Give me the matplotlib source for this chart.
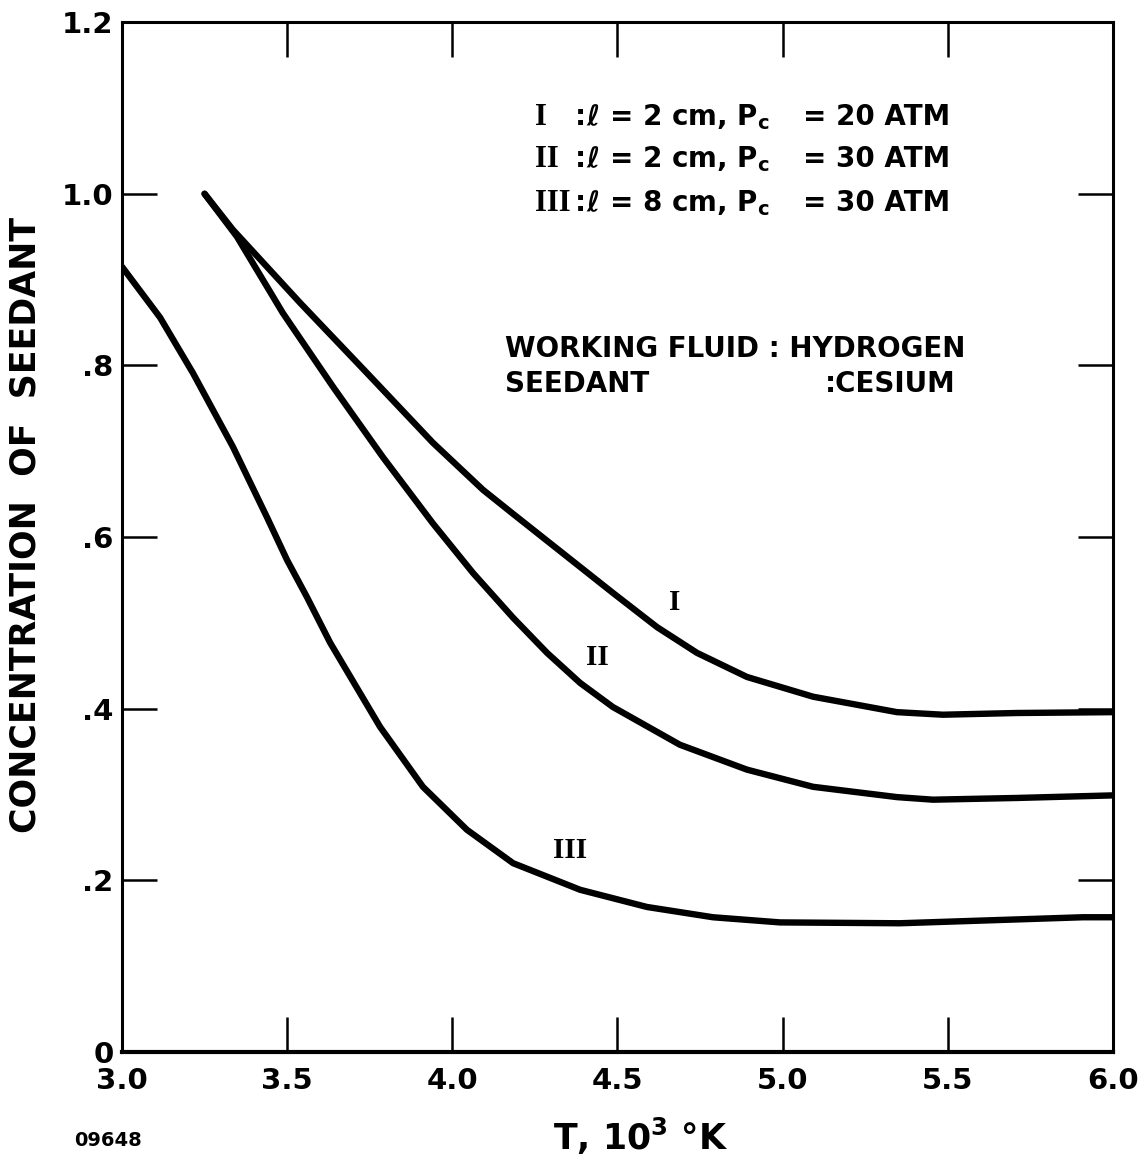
import matplotlib
matplotlib.use("Agg")
import matplotlib.pyplot as plt

# curve I : l = 2 cm, Pc = 20 atm
t_1 = [3.25, 3.336, 3.539, 3.742, 3.941, 4.093, 4.184, 4.335, 4.486, 4.620, 4.741, 4.892, 5.092, 5.346, 5.485, 5.709, 6.00]
c_1 = [1.000, 0.958, 0.873, 0.791, 0.710, 0.655, 0.627, 0.581, 0.535, 0.495, 0.465, 0.437, 0.414, 0.396, 0.393, 0.395, 0.396]

# curve II : l = 2 cm, Pc = 30 atm
t_2 = [3.25, 3.348, 3.487, 3.639, 3.790, 3.941, 4.063, 4.184, 4.287, 4.387, 4.486, 4.689, 4.892, 5.092, 5.346, 5.455, 5.709, 6.00]
c_2 = [1.000, 0.950, 0.861, 0.775, 0.693, 0.616, 0.558, 0.506, 0.465, 0.430, 0.402, 0.358, 0.329, 0.309, 0.297, 0.294, 0.296, 0.299]

# curve III : l = 8 cm, Pc = 30 atm
t_3 = [3.00, 3.115, 3.215, 3.336, 3.439, 3.500, 3.560, 3.630, 3.781, 3.911, 4.044, 4.184, 4.387, 4.589, 4.789, 4.992, 5.355, 5.909, 6.00]
c_3 = [0.915, 0.856, 0.791, 0.705, 0.623, 0.573, 0.530, 0.477, 0.379, 0.309, 0.259, 0.220, 0.189, 0.169, 0.157, 0.151, 0.150, 0.157, 0.157]

x_ticks = [3.0, 3.5, 4.0, 4.5, 5.0, 5.5, 6.0]
x_labels = ["3.0", "3.5", "4.0", "4.5", "5.0", "5.5", "6.0"]
y_ticks = [0, 0.2, 0.4, 0.6, 0.8, 1.0, 1.2]
y_labels = ["0", ".2", ".4", ".6", ".8", "1.0", "1.2"]

plt.rcParams['font.family'] = ['DejaVu Sans']
plt.rcParams['font.weight'] = 'bold'
plt.rcParams['mathtext.default'] = 'bf'

fig = plt.figure(figsize=(11.38, 11.65), dpi=100)
ax = fig.add_axes([0.1072, 0.097, 0.8708, 0.884])

for t, c in [(t_1, c_1), (t_2, c_2), (t_3, c_3)]:
    ax.plot(t, c, color='black', lw=4.6, solid_capstyle='round', solid_joinstyle='round')

ax.set_xlim(3.0, 6.0)
ax.set_ylim(0, 1.2)
ax.set_xticks(x_ticks)
ax.set_xticklabels(x_labels)
ax.set_yticks(y_ticks)
ax.set_yticklabels(y_labels)

for s in ax.spines.values():
    s.set_linewidth(2.2)
ax.spines['bottom'].set_linewidth(3.0)

ax.tick_params(axis='both', direction='in', length=25, width=1.8, labelsize=21,
               top=True, right=True)
ax.tick_params(axis='x', pad=11)
ax.tick_params(axis='y', pad=6)

ax.set_ylabel("CONCENTRATION  OF  SEEDANT", fontsize=25, fontweight='bold')
ax.yaxis.set_label_coords(-0.080, 0.512)
ax.set_xlabel(r"T, 10$^{\mathregular{3}}$ °K", fontsize=25, fontweight='bold')
ax.xaxis.set_label_coords(0.523, -0.062)

# legend block
rows = [("I", "2", "20", 1.080), ("II", "2", "30", 1.031), ("III", "8", "30", 0.980)]
for num, l, p, yb in rows:
    ax.text(4.250, yb, num, family='Liberation Serif', fontsize=22, fontweight='bold',
            ha='left', va='baseline')
    ax.text(4.370, yb, ":", fontsize=20, fontweight='bold', ha='left', va='baseline')
    ax.text(4.405, yb, "ℓ = " + l + " cm, P$_\\mathbf{c}$", fontsize=20, fontweight='bold',
            ha='left', va='baseline')
    ax.text(5.062, yb, "= " + p + " ATM", fontsize=20, fontweight='bold',
            ha='left', va='baseline')

ax.text(4.160, 0.810, "WORKING FLUID : HYDROGEN", fontsize=20, fontweight='bold', va='baseline')
ax.text(4.160, 0.769, "SEEDANT", fontsize=20, fontweight='bold', va='baseline')
ax.text(5.128, 0.769, ":CESIUM", fontsize=20, fontweight='bold', va='baseline')

# curve labels
ax.text(4.674, 0.524, "I", family='Liberation Serif', fontsize=21, fontweight='bold', ha='center', va='center')
ax.text(4.438, 0.460, "II", family='Liberation Serif', fontsize=21, fontweight='bold', ha='center', va='center')
ax.text(4.356, 0.235, "III", family='Liberation Serif', fontsize=21, fontweight='bold', ha='center', va='center')

fig.text(108 / 1138, 1 - 1140 / 1165, "09648", fontsize=14, fontweight='bold', ha='center', va='center')

fig.savefig("out.png", dpi=100)
